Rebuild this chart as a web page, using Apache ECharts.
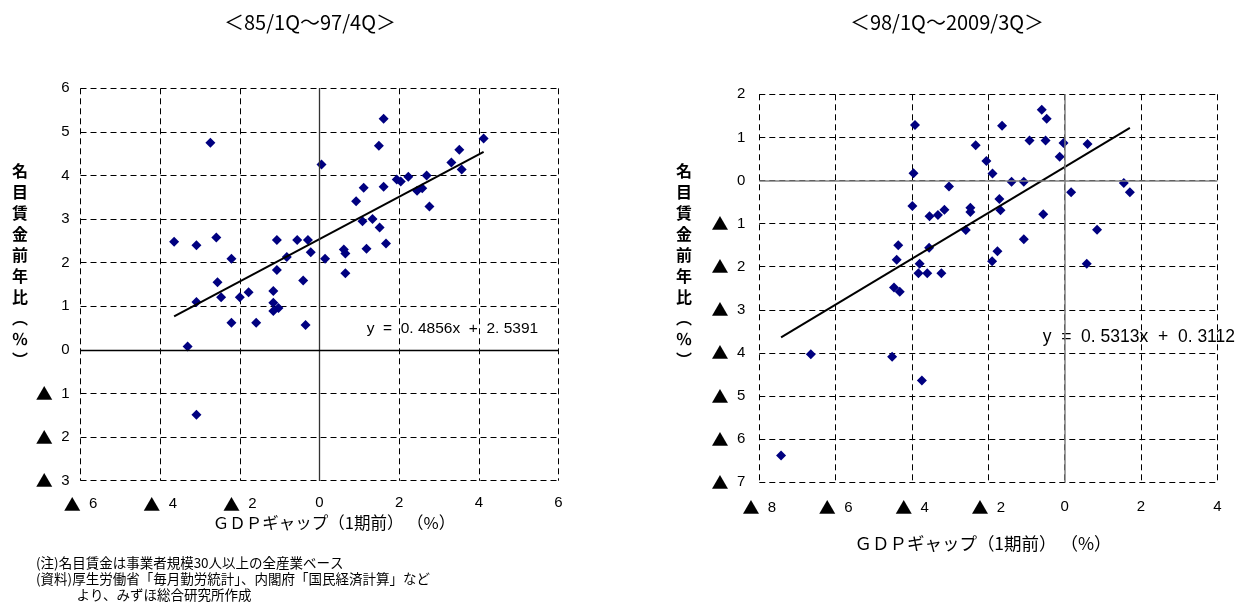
<!DOCTYPE html>
<html><head><meta charset="utf-8">
<script src="https://cdn.jsdelivr.net/npm/echarts@6/dist/echarts.min.js"></script>
<style>html,body{margin:0;padding:0;background:#fff}#c{width:1246px;height:612px}</style>
</head><body><div id="c"></div>
<script>
// Period titles
const periodTitles = ['＜85/1Q～97/4Q＞', '＜98/1Q～2009/3Q＞'];

// 85/1Q-97/4Q : GDP gap (1 quarter earlier, %) vs nominal wage growth (y/y, %)
const gapEarly = [-2.74,-3.65,-3.09,-2.59,-2.21,-2.56,-1.07,-0.56,-0.29,-0.82,-0.22,-1.07,-0.41,0.05,1.61,1.49,4.12,3.51,3.31,3.57,1.11,1.61,1.94,2.04,2.23,2.69,2.45,2.58,2.76,0.92,1.08,1.33,1.51,1.67,1.18,0.61,0.65,0.14,0.65,-0.35,-3.09,-2.47,-2.00,-1.78,-1.16,-1.16,-1.16,-1.03,-2.21,-1.59,-3.31,-3.09];
const wageEarly = [4.75,2.48,2.40,2.58,2.09,1.55,2.52,2.52,2.52,2.13,2.24,1.83,1.59,4.25,5.30,4.68,4.85,4.59,4.30,4.14,3.72,3.74,3.91,3.86,3.97,4.00,3.65,3.71,3.29,3.41,2.95,3.00,2.81,2.44,2.32,2.30,2.21,2.09,1.76,0.57,1.10,1.21,1.21,1.32,1.35,1.08,0.89,0.96,0.62,0.62,0.08,-1.49];

// 98/1Q-2009/3Q
const gapLate = [-3.92,-3.96,-2.33,-3.03,-3.99,-3.54,-3.32,-3.15,-2.47,-2.47,-2.59,-3.55,-4.36,-4.40,-3.80,-3.83,-3.60,-3.23,-4.47,-4.32,-6.65,-4.52,-3.74,-7.43,-0.60,-0.47,-1.64,-0.92,-0.50,-0.03,0.60,-0.13,-2.05,-1.89,-1.39,-1.07,0.17,1.55,1.71,-1.71,-1.68,-0.56,0.85,-1.07,-1.76,-1.90,0.58];
const wageLate = [1.29,0.17,0.82,-0.14,-0.59,-0.83,-0.80,-0.68,-0.63,-0.73,-1.15,-1.56,-1.50,-1.84,-1.93,-2.15,-2.15,-2.15,-2.48,-2.58,-4.03,-4.09,-4.64,-6.38,1.64,1.43,1.27,0.93,0.93,0.87,0.85,0.55,0.45,0.16,-0.03,-0.03,-0.27,-0.06,-0.27,-0.43,-0.69,-0.78,-1.14,-1.36,-1.64,-1.87,-1.93];

// Linear fits [slope, intercept]
const fitEarly = [0.4856, 2.5391];
const fitLate = [0.5313, 0.3112];

// Axis ranges [min, max, interval]
const xRangeEarly = [-6, 6, 2], yRangeEarly = [-3, 6, 1];
const xRangeLate = [-8, 4, 2], yRangeLate = [-7, 2, 1];

const xName = 'ＧＤＰギャップ（1期前） （%）';
const yName = '名目賃金前年比︵％︶';
const notes = [
  '(注)名目賃金は事業者規模30人以上の全産業ベース',
  '(資料)厚生労働省「毎月勤労統計」、内閣府「国民経済計算」など',
  '　　　より、みずほ総合研究所作成'
];

const cjk = '"Noto Sans CJK JP", sans-serif';
const tickFont = '"Liberation Sans", "Noto Sans CJK JP", sans-serif';

// negative values are written with a leading triangle
const fmt = v => v < 0 ? '{t|▲}  ' + Math.abs(v) : String(v);
const eqText = f => 'y  =  ' + f[0].toFixed(4).replace('.', '. ') + 'x  +  ' + f[1].toFixed(4).replace('.', '. ');
const pairs = (xs, ys) => xs.map((x, i) => [x, ys[i]]);
const fitLine = (xs, f) => {
  const lo = Math.min(...xs), hi = Math.max(...xs);
  return [[lo, f[0] * lo + f[1]], [hi, f[0] * hi + f[1]]];
};

const dash = {type: [6, 4], color: '#000', width: 1};
const label = margin => ({formatter: fmt, margin: margin, color: '#000', fontSize: 15, fontFamily: tickFont,
  rich: {t: {fontSize: 17, fontFamily: cjk, color: '#000'}}});

function axis(idx, r, margin) {
  return {type: 'value', gridIndex: idx, min: r[0], max: r[1], interval: r[2],
    axisLine: {show: false}, axisTick: {show: false},
    splitLine: {show: true, lineStyle: dash},
    axisLabel: label(margin)};
}
function scatter(idx, xs, ys, zeroColor, zeroWidth) {
  return {type: 'scatter', xAxisIndex: idx, yAxisIndex: idx, data: pairs(xs, ys),
    symbol: 'diamond', symbolSize: [10, 10], itemStyle: {color: '#000080', opacity: 1}, z: 3,
    markLine: {silent: true, symbol: 'none', label: {show: false}, animation: false,
      data: [
        {xAxis: 0, lineStyle: {type: 'solid', color: zeroColor[0], width: zeroWidth}},
        {yAxis: 0, lineStyle: {type: 'solid', color: zeroColor[1], width: zeroWidth}}
      ]}};
}
function fit(idx, xs, f) {
  return {type: 'line', xAxisIndex: idx, yAxisIndex: idx, data: fitLine(xs, f),
    symbol: 'none', lineStyle: {color: '#000', width: 2}, z: 4};
}

const chart = echarts.init(document.getElementById('c'), null, {renderer: 'canvas'});
const txt = (x, y, text, opt) => ({type: 'text', x: x, y: y,
  style: Object.assign({text: text, fill: '#000', font: '16px ' + cjk, textVerticalAlign: 'middle'}, opt || {})});

chart.setOption({
  animation: false,
  backgroundColor: '#fff',
  grid: [
    {left: 80.5, right: 687.5, top: 88.3, bottom: 131.3, containLabel: false, outerBoundsMode: 'none'},
    {left: 759.3, right: 28.7, top: 94.3, bottom: 129.7, containLabel: false, outerBoundsMode: 'none'}
  ],
  xAxis: [axis(0, xRangeEarly, 15), axis(1, xRangeLate, 17)],
  yAxis: [axis(0, yRangeEarly, 11), axis(1, yRangeLate, 14)],
  series: [
    scatter(0, gapEarly, wageEarly, ['#333', '#000'], 1.3),
    fit(0, gapEarly, fitEarly),
    scatter(1, gapLate, wageLate, ['#808080', '#808080'], 1.5),
    fit(1, gapLate, fitLate)
  ],
  graphic: [
    txt(310, 22, periodTitles[0], {font: '20px ' + cjk, textAlign: 'center'}),
    txt(947, 22, periodTitles[1], {font: '20px ' + cjk, textAlign: 'center'}),
    txt(20, 265, yName.split('').join('\n'), {font: 'bold 16px ' + cjk, textAlign: 'center', lineHeight: 21}),
    txt(684, 265, yName.split('').join('\n'), {font: 'bold 16px ' + cjk, textAlign: 'center', lineHeight: 21}),
    txt(334, 523, xName, {font: '16.5px ' + cjk, textAlign: 'center'}),
    txt(983, 543, xName, {font: '17.5px ' + cjk, textAlign: 'center'}),
    txt(366.7, 328.3, eqText(fitEarly), {font: '15.5px ' + tickFont}),
    txt(1042.7, 336.7, eqText(fitLate), {font: '17.5px ' + tickFont}),
    txt(36, 563, notes[0], {font: '13.5px ' + cjk}),
    txt(36, 579, notes[1], {font: '13.5px ' + cjk}),
    txt(36, 595, notes[2], {font: '13.5px ' + cjk})
  ]
});
</script>
</body></html>
